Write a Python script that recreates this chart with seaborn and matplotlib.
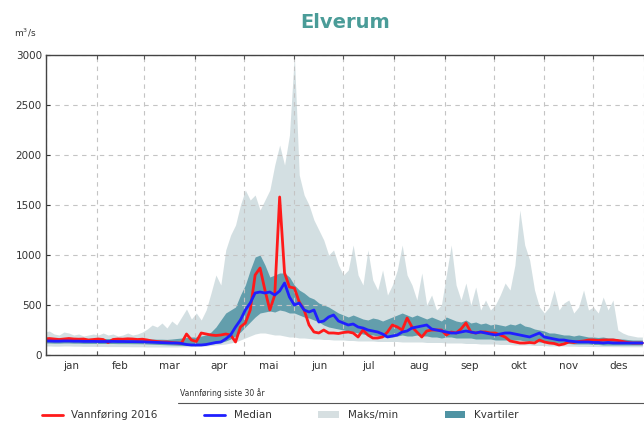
import numpy as np
import seaborn as sns
import matplotlib
matplotlib.use("Agg")
import matplotlib.pyplot as plt
from matplotlib.lines import Line2D
from matplotlib.patches import Patch

# day of year 2016, every third day
dag = np.arange(-1, 366, 3)

# m3/s
maks = [230, 240, 210, 200, 230, 220, 200, 210, 190, 200,
        210, 200, 220, 200, 210, 190, 200, 220, 200, 210,
        230, 260, 300, 280, 320, 270, 340, 300, 380, 460,
        360, 420, 350, 450, 620, 800, 700, 1050, 1200, 1300,
        1500, 1650, 1550, 1600, 1450, 1550, 1650, 1900, 2100, 1900,
        2200, 3000, 1800, 1600, 1500, 1350, 1250, 1150, 1000, 1050,
        900, 800, 850, 1100, 800, 700, 1050, 750, 650, 850,
        600, 700, 850, 1100, 800, 700, 550, 820, 500, 600,
        450, 500, 800, 1100, 700, 550, 720, 500, 680, 450,
        550, 450, 500, 600, 720, 650, 900, 1450, 1100, 950,
        650, 480, 420, 480, 650, 450, 520, 550, 420, 480,
        650, 450, 480, 420, 580, 450, 550, 250, 220, 200,
        190, 180, 180]
minimum = [90, 90, 88, 88, 90, 90, 88, 88, 86, 86,
           86, 85, 85, 84, 84, 84, 83, 83, 82, 82,
           82, 80, 80, 80, 80, 80, 80, 80, 82, 82,
           84, 85, 88, 90, 95, 100, 105, 110, 120, 130,
           150, 170, 190, 210, 220, 220, 210, 200, 200, 190,
           180, 180, 170, 170, 165, 160, 160, 155, 155, 150,
           150, 150, 145, 145, 140, 140, 140, 140, 135, 135,
           135, 135, 135, 130, 130, 130, 130, 130, 125, 125,
           125, 125, 120, 120, 120, 120, 115, 115, 115, 110,
           110, 110, 110, 105, 105, 105, 100, 100, 100, 100,
           95, 95, 95, 90, 90, 90, 90, 88, 88, 86,
           86, 85, 85, 84, 84, 84, 83, 83, 82, 82,
           82, 82, 82]
q1 = [120, 120, 118, 118, 120, 120, 118, 118, 116, 116,
      116, 115, 115, 115, 115, 114, 114, 114, 113, 113,
      112, 110, 108, 106, 104, 102, 100, 98, 96, 96,
      96, 98, 100, 105, 110, 115, 125, 140, 160, 190,
      230, 280, 330, 380, 420, 430, 440, 430, 450, 440,
      420, 420, 400, 380, 370, 350, 330, 300, 280, 270,
      260, 250, 240, 230, 220, 210, 200, 200, 190, 180,
      180, 180, 190, 200, 190, 190, 200, 190, 190, 180,
      180, 170, 180, 180, 170, 170, 170, 170, 160, 160,
      160, 160, 150, 150, 150, 150, 150, 150, 140, 140,
      140, 130, 130, 125, 120, 120, 115, 115, 110, 110,
      110, 110, 105, 105, 100, 100, 100, 100, 100, 100,
      100, 100, 100]
q3 = [170, 170, 168, 168, 170, 170, 168, 168, 166, 166,
      166, 165, 165, 165, 165, 164, 164, 164, 163, 163,
      162, 160, 160, 158, 158, 156, 160, 165, 170, 175,
      180, 180, 190, 200, 230, 280, 350, 420, 450, 480,
      600, 700, 850, 980, 1000, 900, 780, 800, 820, 820,
      780, 700, 650, 620, 580, 560, 520, 500, 480, 450,
      420, 400, 380, 400, 380, 360, 350, 370, 360, 340,
      360, 380, 400, 420, 400, 380, 400, 380, 360, 380,
      360, 340, 380, 360, 340, 330, 350, 320, 330, 310,
      320, 300, 310, 300, 290, 310, 300, 320, 290, 280,
      260, 250, 240, 220, 220, 210, 200, 200, 190, 200,
      190, 180, 180, 175, 180, 170, 170, 160, 160, 155,
      150, 150, 150]
median = [140, 140, 138, 138, 140, 140, 138, 138, 136, 136,
          136, 135, 135, 135, 136, 135, 135, 134, 134, 133,
          132, 130, 128, 126, 124, 122, 120, 120, 115, 105,
          100, 100, 100, 105, 115, 125, 130, 160, 200, 280,
          350, 450, 520, 620, 630, 620, 630, 600, 640, 720,
          580, 500, 520, 450, 430, 450, 330, 340, 380, 400,
          340, 320, 300, 310, 280, 270, 250, 240, 230, 210,
          180, 190, 200, 230, 240, 270, 280, 290, 300, 260,
          250, 240, 230, 220, 220, 230, 240, 230, 220, 230,
          220, 210, 200, 210, 220, 220, 210, 200, 190, 180,
          200, 220, 180, 170, 160, 150, 150, 140, 135, 130,
          130, 130, 125, 125, 120, 125, 120, 120, 120, 120,
          120, 120, 120]
vf2016 = [160, 165, 160, 155, 160, 165, 160, 158, 160, 150,
          155, 160, 155, 125, 155, 160, 158, 162, 160, 155,
          158, 150, 140, 135, 130, 130, 125, 120, 120, 210,
          150, 135, 220, 210, 200, 195, 200, 210, 200, 130,
          280, 320, 450, 800, 870, 650, 450, 600, 1580, 820,
          680, 670, 530, 450, 300, 230, 220, 250, 220, 220,
          215, 225, 230, 220, 180, 250, 200, 170, 170, 180,
          230, 300, 280, 250, 370, 280, 230, 180, 240, 250,
          250, 250, 200, 230, 220, 260, 320, 230, 220, 230,
          230, 220, 220, 200, 180, 140, 130, 120, 120, 125,
          120, 150, 130, 120, 115, 100, 110, 130, 125, 135,
          140, 150, 150, 145, 150, 150, 150, 145, 135, 125,
          120, 120, 120]

maaneder = ['jan', 'feb', 'mar', 'apr', 'mai', 'jun',
            'jul', 'aug', 'sep', 'okt', 'nov', 'des']
maaned_start = [0, 31, 60, 91, 121, 152, 182, 213, 244, 274, 305, 335, 366]

RED = '#ff1a1a'
BLUE = '#1f1fff'
GREY = '#cfdcdf'
TEAL = '#4f93a3'
TXT = '#333333'


def make_plot():
    sns.set_style("white")
    plt.rcParams['font.family'] = ['DejaVu Sans']

    fig = plt.figure(figsize=(6.44, 4.25), dpi=100)
    ax = fig.add_axes([46 / 644, 70 / 425, 598 / 644, 300 / 425])

    ax.fill_between(dag, minimum, maks, color=GREY, lw=0, alpha=0.9, zorder=1)
    ax.fill_between(dag, q1, q3, color=TEAL, lw=0, alpha=0.85, zorder=2)
    sns.lineplot(x=dag, y=vf2016, color=RED, lw=2, ax=ax, zorder=3)
    sns.lineplot(x=dag, y=median, color=BLUE, lw=2, ax=ax, zorder=4)

    ax.set_xlim(0, 363.5)
    ax.set_ylim(0, 3000)
    ax.set_yticks(np.arange(0, 3001, 500))
    ax.set_xticks(maaned_start)
    ax.set_xticklabels([])
    mid = [(a + b) / 2 for a, b in zip(maaned_start[:-1], maaned_start[1:])]
    ax.set_xticks(mid, minor=True)
    ax.set_xticklabels(maaneder, minor=True)
    ax.tick_params(axis='x', which='minor', length=0, labelsize=7.5,
                   colors=TXT, pad=4)
    ax.tick_params(axis='x', which='major', direction='in', length=3,
                   top=True, bottom=True, color='#555555')
    ax.tick_params(axis='y', direction='in', length=3, labelsize=7.5,
                   colors=TXT, pad=3, left=True, right=False)
    # grid above the bands, below the lines
    ax.set_axisbelow(False)
    ax.grid(True, which='major', color='#c4c4c4', linestyle=(0, (4, 4)), lw=0.8)
    ax.set_xlabel('')
    ax.set_ylabel('')
    for side in ['left', 'bottom', 'top']:
        ax.spines[side].set_color('#444444')
        ax.spines[side].set_linewidth(1)
        ax.spines[side].set_zorder(6)
    ax.spines['right'].set_visible(False)

    fig.text(345 / 644, 1 - 22 / 425, 'Elverum', ha='center', va='center',
             fontsize=14, fontweight='bold', color='#4a9c98')
    fig.text(25 / 644, 1 - 33 / 425, 'm$^3$/s', ha='center', va='center',
             fontsize=6.5, color=TXT)

    # legend block under the plot
    fig.text(180 / 644, 1 - 393 / 425, 'Vannføring siste 30 år', ha='left',
             va='center', fontsize=5.5, color=TXT)
    fig.add_artist(Line2D([178 / 644, 1.0], [1 - 403 / 425, 1 - 403 / 425],
                          color='#555555', lw=0.8))
    handles = [Line2D([], [], color=RED, lw=2),
               Line2D([], [], color=BLUE, lw=2),
               Patch(facecolor='#d6dfe1', edgecolor='none'),
               Patch(facecolor=TEAL, edgecolor='none')]
    labels = ['Vannføring 2016', 'Median', 'Maks/min', 'Kvartiler']
    fig.legend(handles, labels, ncol=4, loc='center left',
               bbox_to_anchor=(42 / 644, 10 / 425), frameon=False,
               fontsize=7.5, handlelength=2.0, handleheight=0.6,
               columnspacing=4.5, borderpad=0, borderaxespad=0,
               labelcolor=TXT)

    fig.savefig('out.png', dpi=100)


if __name__ == '__main__':
    make_plot()
